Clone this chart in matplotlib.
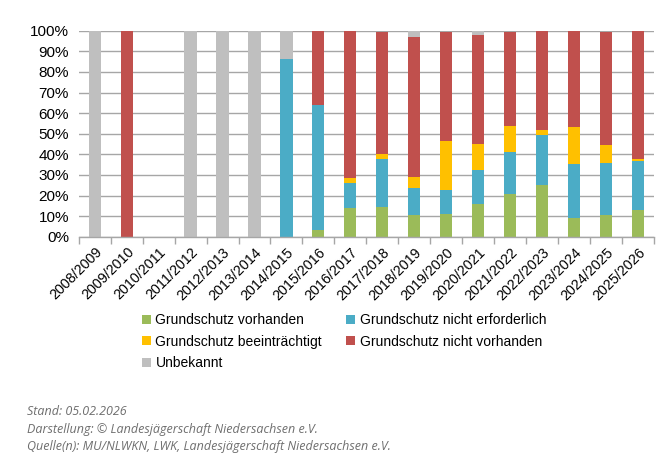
import matplotlib
matplotlib.use("Agg")
import matplotlib.pyplot as plt
import numpy as np
from matplotlib.patches import Patch

seasons = ["2008/2009", "2009/2010", "2010/2011", "2011/2012", "2012/2013", "2013/2014",
           "2014/2015", "2015/2016", "2016/2017", "2017/2018", "2018/2019", "2019/2020",
           "2020/2021", "2021/2022", "2022/2023", "2023/2024", "2024/2025", "2025/2026"]

vorhanden       = [0, 0, 0, 0, 0, 0, 0, 3.5, 14.1, 14.4, 10.5, 11.2, 15.9, 20.7, 25.1, 9.2, 10.5, 12.9]
nicht_erforderl = [0, 0, 0, 0, 0, 0, 86.1, 60.4, 11.8, 23.3, 13.0, 11.5, 16.3, 20.2, 24.3, 26.1, 25.1, 24.0]
beeintraechtigt = [0, 0, 0, 0, 0, 0, 0, 0, 2.4, 2.6, 5.6, 23.9, 12.8, 12.8, 2.4, 17.8, 8.7, 0.8]
nicht_vorhanden = [0, 100, 0, 0, 0, 0, 0, 36.1, 71.7, 58.9, 67.7, 52.6, 53.1, 45.5, 48.2, 46.9, 55.2, 62.3]
unbekannt       = [100, 0, 0, 100, 100, 100, 13.9, 0, 0, 0, 3.2, 0, 1.9, 0, 0, 0, 0, 0]

series_names = ["Grundschutz vorhanden", "Grundschutz nicht erforderlich",
                "Grundschutz beeinträchtigt", "Grundschutz nicht vorhanden", "Unbekannt"]
colors = ["#9BBB59", "#4BACC6", "#FFC000", "#C0504D", "#BFBFBF"]
y_ticks = [0, 10, 20, 30, 40, 50, 60, 70, 80, 90, 100]

plt.rcParams['font.family'] = ['Liberation Sans', 'DejaVu Sans']

fig = plt.figure(figsize=(6.67, 4.66), dpi=100)
ax = fig.add_axes([0.118, 0.492, 0.8625, 0.442])

x = np.arange(len(seasons))
data = [vorhanden, nicht_erforderl, beeintraechtigt, nicht_vorhanden, unbekannt]
bottom = np.zeros(len(seasons))
for vals, c in zip(data, colors):
    v = np.array(vals, dtype=float)
    ax.bar(x, v, width=0.38, bottom=bottom, color=c, zorder=3, linewidth=0)
    bottom += v

ax.set_ylim(0, 100)
ax.set_xlim(-0.5, len(seasons) - 0.5)
ax.set_yticks(y_ticks)
ax.set_yticklabels([f"{t}%" for t in y_ticks], fontsize=11, color="#000000")
ax.yaxis.grid(True, color="#A6A6A6", linewidth=1.0, zorder=0)
ax.tick_params(axis='y', length=0, pad=7)

ax.set_xticks(x)
ax.set_xticklabels(seasons, rotation=45, ha='right', rotation_mode='anchor', fontsize=10.3)
ax.set_xticks(np.arange(-0.5, len(seasons), 1.0), minor=True)
ax.tick_params(axis='x', which='major', length=0, pad=6)
ax.tick_params(axis='x', which='minor', length=5, color="#A6A6A6", width=1.0)

for s in ["top", "right", "left"]:
    ax.spines[s].set_visible(False)
ax.spines["bottom"].set_color("#A6A6A6")
ax.spines["bottom"].set_linewidth(1.0)
ax.spines["bottom"].set_zorder(4)

handles = [Patch(facecolor=c, edgecolor='none') for c in colors]
order = [0, 2, 4, 1, 3]
leg = fig.legend([handles[i] for i in order], [series_names[i] for i in order],
                 ncol=2, loc='upper left', bbox_to_anchor=(0.205, 0.340),
                 frameon=False, fontsize=10, handlelength=0.6, handleheight=0.6,
                 handletextpad=0.35, columnspacing=1.75, labelspacing=0.55,
                 borderaxespad=0)

foot_color = "#6E6E6E"
foot_font = ['Open Sans', 'DejaVu Sans']
fig.text(0.040, 0.116, "Stand: 05.02.2026", fontsize=9.0, style='italic',
         color=foot_color, family=foot_font, va='center')
fig.text(0.040, 0.079, "Darstellung: © Landesjägerschaft Niedersachsen e.V.", fontsize=9.0,
         style='italic', color=foot_color, family=foot_font, va='center')
fig.text(0.040, 0.041, "Quelle(n): MU/NLWKN, LWK, Landesjägerschaft Niedersachsen e.V.",
         fontsize=9.0, style='italic', color=foot_color, family=foot_font, va='center')

fig.savefig("out.png", dpi=100)
